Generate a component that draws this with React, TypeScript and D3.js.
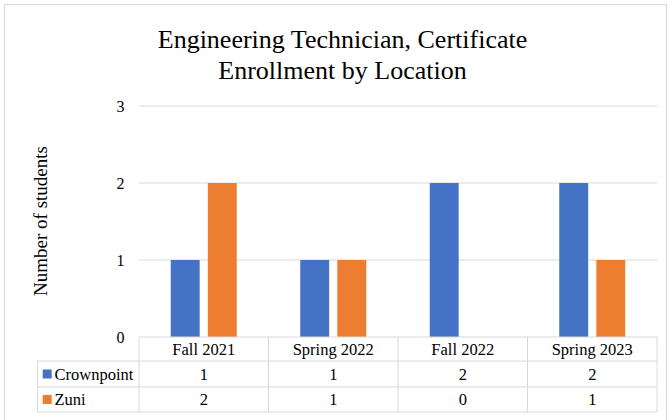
import React from 'react';
import * as d3 from 'd3';

const categories = ['Fall 2021', 'Spring 2022', 'Fall 2022', 'Spring 2023'];
const seriesNames = ['Crownpoint', 'Zuni'];
const crownpoint = [1, 1, 2, 2];
const zuni = [2, 1, 0, 1];
const yTicks = [0, 1, 2, 3];
const colors = ['#4472c4', '#ed7d31'];

const W = 668;
const H = 420;
const serif = { fontFamily: "'Liberation Serif', 'Times New Roman', Times, serif" };

const App: React.FC = () => {
    const left = 139;
    const right = 657;
    const zeroY = 337;
    const topY = 106;

    const x = d3.scaleBand<string>().domain(categories).range([left, right]);
    const y = d3.scaleLinear().domain([0, 3]).range([zeroY, topY]);
    const inner = d3
        .scaleBand<string>()
        .domain(seriesNames)
        .range([0, 66])
        .paddingInner(0.22);
    const values = [crownpoint, zuni];

    const rowTops = [337, 361, 387, 412];
    const tableLeft = 37.5;
    const grid = '#d9d9d9';
    const fs = 16.5;

    return (
        <svg
            width={W}
            height={H}
            style={{ position: 'absolute', left: 0, top: 0, background: '#fff', ...serif }}
        >
            <rect x={4.5} y={4.5} width={662} height={430} fill="#fff" stroke={grid} />
            <text x={342.5} y={48} textAnchor="middle" style={serif} fontSize={26}>
                Engineering Technician, Certificate
            </text>
            <text x={342.5} y={79} textAnchor="middle" style={serif} fontSize={26}>
                Enrollment by Location
            </text>

            {yTicks.map((t) => (
                <g key={t}>
                    {t > 0 && (
                        <line x1={left} x2={right} y1={y(t)} y2={y(t)} stroke={grid} />
                    )}
                    <text
                        x={124.5}
                        y={y(t) + 5.5}
                        textAnchor="end"
                        style={serif}
                        fontSize={16}
                    >
                        {t}
                    </text>
                </g>
            ))}

            <text
                transform={`translate(46.5, 221) rotate(-90)`}
                textAnchor="middle"
                style={serif}
                fontSize={19}
            >
                Number of students
            </text>

            {categories.map((c, i) => {
                const cx = (x(c) as number) + x.bandwidth() / 2 - 33;
                return seriesNames.map((s, j) => {
                    const v = values[j][i];
                    if (v === 0) return null;
                    return (
                        <rect
                            key={c + s}
                            x={cx + (inner(s) as number)}
                            y={y(v)}
                            width={inner.bandwidth()}
                            height={zeroY - y(v)}
                            fill={colors[j]}
                        />
                    );
                });
            })}

            {/* data table */}
            <g stroke={grid} fill="none">
                <line x1={left} x2={right} y1={rowTops[0]} y2={rowTops[0]} />
                <line x1={tableLeft} x2={right} y1={rowTops[1]} y2={rowTops[1]} />
                <line x1={tableLeft} x2={right} y1={rowTops[2]} y2={rowTops[2]} />
                <line x1={tableLeft} x2={right} y1={rowTops[3]} y2={rowTops[3]} />
                <line x1={tableLeft} x2={tableLeft} y1={rowTops[1]} y2={rowTops[3]} />
                {categories.map((c) => (
                    <line
                        key={c}
                        x1={x(c) as number}
                        x2={x(c) as number}
                        y1={rowTops[0]}
                        y2={rowTops[3]}
                    />
                ))}
                <line x1={right} x2={right} y1={rowTops[0]} y2={rowTops[3]} />
            </g>
            {categories.map((c) => (
                <text
                    key={c}
                    x={(x(c) as number) + x.bandwidth() / 2}
                    y={rowTops[0] + 18}
                    textAnchor="middle"
                    style={serif}
                    fontSize={fs}
                >
                    {c}
                </text>
            ))}
            {seriesNames.map((s, j) => {
                const mid = (rowTops[j + 1] + rowTops[j + 2]) / 2;
                return (
                    <g key={s}>
                        <rect x={42.7} y={mid - 4.5} width={9} height={9} fill={colors[j]} />
                        <text x={54.5} y={mid + 5.5} style={serif} fontSize={fs}>
                            {s}
                        </text>
                        {categories.map((c, i) => (
                            <text
                                key={c}
                                x={(x(c) as number) + x.bandwidth() / 2}
                                y={mid + 5.5}
                                textAnchor="middle"
                                style={serif}
                                fontSize={fs}
                            >
                                {values[j][i]}
                            </text>
                        ))}
                    </g>
                );
            })}
        </svg>
    );
};

export default App;
